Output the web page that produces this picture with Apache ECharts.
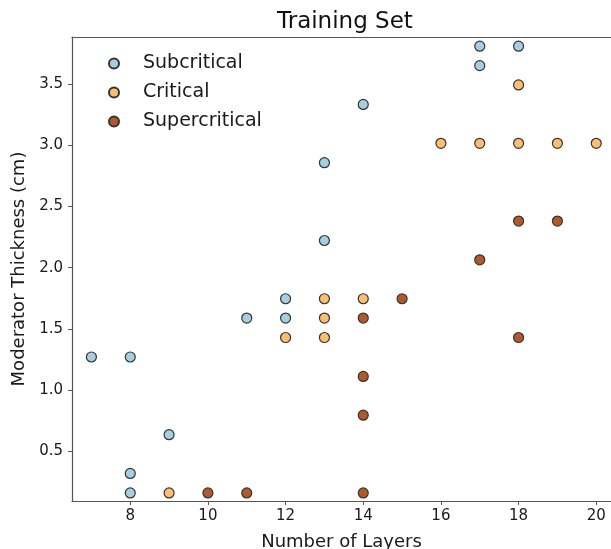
<!DOCTYPE html>
<html>
<head>
<meta charset="utf-8">
<script src="https://cdn.jsdelivr.net/npm/echarts@6/dist/echarts.min.js"></script>
<style>
  html, body { margin: 0; padding: 0; background: #fff; overflow: hidden; }
  #chart { width: 611px; height: 549px; }
</style>
</head>
<body>
<div id="chart"></div>
<script>
// Number of layers (x) and moderator thickness in cm (y) for each class
const subLayers = [7, 8, 8, 8, 9, 11, 12, 12, 13, 13, 14, 17, 17, 18];
const subThick = [1.270, 1.270, 0.318, 0.159, 0.635, 1.588, 1.746, 1.588, 2.858, 2.222, 3.334, 3.810, 3.651, 3.810];

const critLayers = [9, 12, 13, 13, 13, 14, 16, 17, 18, 19, 20, 18];
const critThick = [0.159, 1.429, 1.746, 1.588, 1.429, 1.746, 3.016, 3.016, 3.016, 3.016, 3.016, 3.493];

const superLayers = [10, 11, 14, 14, 14, 14, 15, 17, 18, 19, 18];
const superThick = [0.159, 0.159, 0.159, 0.794, 1.111, 1.588, 1.746, 2.064, 2.381, 2.381, 1.429];

const xTicks = [8, 10, 12, 14, 16, 18, 20];
const yTicks = [0.5, 1.0, 1.5, 2.0, 2.5, 3.0, 3.5];

const FONT = 'DejaVu Sans';
const TEXT = '#1a1a1a';
const SPINE = '#555';

function pairs(xs, ys) {
  return xs.map((x, i) => [x, ys[i]]);
}

function scatter(name, xs, ys, color) {
  return {
    name: name,
    type: 'scatter',
    data: pairs(xs, ys),
    symbol: 'circle',
    symbolSize: 10,
    clip: false,
    itemStyle: { color: color, borderColor: '#333', borderWidth: 1.2, opacity: 1 },
    emphasis: { disabled: true }
  };
}

const chart = echarts.init(document.getElementById('chart'), null, { renderer: 'canvas' });

chart.setOption({
  animation: false,
  backgroundColor: '#fff',
  textStyle: { fontFamily: FONT },
  title: {
    text: 'Training Set',
    left: 272,
    top: 6,
    textStyle: { fontFamily: FONT, fontSize: 23, fontWeight: 'normal', color: '#111' }
  },
  legend: {
    orient: 'vertical',
    left: 103,
    top: 49,
    itemWidth: 10,
    itemHeight: 10,
    itemGap: 10,
    icon: 'circle',
    textStyle: { fontFamily: FONT, fontSize: 19, color: TEXT, padding: [0, 0, 0, 19] },
    data: ['Subcritical', 'Critical', 'Supercritical']
  },
  grid: {
    left: 72,
    right: 0,
    top: 37,
    bottom: 48,
    containLabel: false,
    outerBoundsMode: 'none'
  },
  xAxis: [
    {
      type: 'value',
      min: 6.5,
      max: 20.38,
      name: 'Number of Layers',
      nameLocation: 'middle',
      nameGap: 32,
      nameTextStyle: { fontFamily: FONT, fontSize: 18, color: TEXT },
      axisLine: { onZero: false, lineStyle: { color: SPINE, width: 1.2 } },
      axisTick: { show: true, length: 4, lineStyle: { color: SPINE, width: 1 }, customValues: xTicks },
      axisLabel: { fontFamily: FONT, fontSize: 15, color: TEXT, margin: 8, customValues: xTicks },
      splitLine: { show: false }
    },
    {
      // top spine
      type: 'value',
      position: 'top',
      min: 6.5,
      max: 20.38,
      axisLine: { show: true, onZero: false, lineStyle: { color: SPINE, width: 1.2 } },
      axisTick: { show: false },
      axisLabel: { show: false },
      splitLine: { show: false }
    }
  ],
  yAxis: {
    type: 'value',
    min: 0.093,
    max: 3.885,
    name: 'Moderator Thickness (cm)',
    nameLocation: 'middle',
    nameGap: 34,
    nameTextStyle: { fontFamily: FONT, fontSize: 18, color: TEXT },
    axisLine: { show: true, onZero: false, lineStyle: { color: SPINE, width: 1.2 } },
    axisTick: { show: true, length: 4, lineStyle: { color: SPINE, width: 1 }, customValues: yTicks },
    axisLabel: {
      fontFamily: FONT, fontSize: 15, color: TEXT, margin: 9,
      customValues: yTicks,
      formatter: v => v.toFixed(1)
    },
    splitLine: { show: false }
  },
  series: [
    scatter('Subcritical', subLayers, subThick, '#a6cee3'),
    scatter('Critical', critLayers, critThick, '#fdbf6f'),
    scatter('Supercritical', superLayers, superThick, '#b15928')
  ]
});
</script>
</body>
</html>
